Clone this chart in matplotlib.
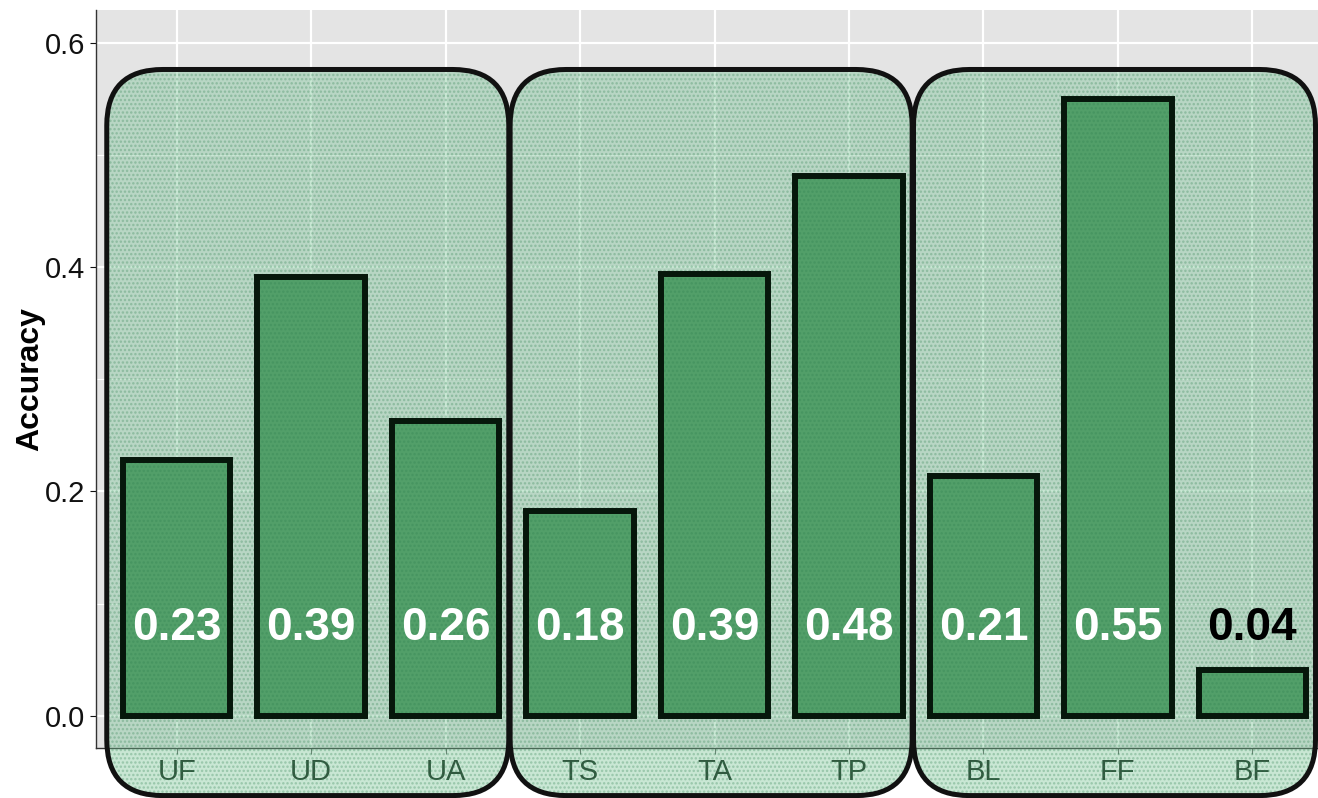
import numpy as np
import matplotlib
matplotlib.use('Agg')
import matplotlib.pyplot as plt
from matplotlib.patches import FancyBboxPatch

plt.rcParams['font.family'] = ['Liberation Sans', 'DejaVu Sans']
plt.rcParams['hatch.linewidth'] = 1.2

# data
categories = ['UF', 'UD', 'UA', 'TS', 'TA', 'TP', 'BL', 'FF', 'BF']
accuracy = [0.228, 0.391, 0.263, 0.183, 0.394, 0.481, 0.214, 0.55, 0.041]
groups = [['UF', 'UD', 'UA'], ['TS', 'TA', 'TP'], ['BL', 'FF', 'BF']]
y_ticks = [0.0, 0.2, 0.4, 0.6]

W, H = 1318, 798
fig = plt.figure(figsize=(W / 100, H / 100), dpi=100)
ax = fig.add_axes([96 / W, 50 / H, (1333 - 96) / W, (748 - 10) / H])

ylim = (-0.0286, 0.629)
xlim = (-0.6, len(categories) - 0.4)
ax.set_xlim(*xlim)
ax.set_ylim(*ylim)

# ggplot-like panel
ax.set_facecolor('#e4e4e4')
ax.set_axisbelow(True)
ax.set_yticks(y_ticks)
ax.set_yticks([0.1, 0.3, 0.5], minor=True)
ax.grid(which='major', color='white', linewidth=1.6)
ax.grid(which='minor', axis='y', color='white', linewidth=0.8)
for side in ['top', 'right']:
    ax.spines[side].set_visible(False)
for side in ['left', 'bottom']:
    ax.spines[side].set_color('#333333')
    ax.spines[side].set_linewidth(1.0)

x = np.arange(len(categories))
# bar fill sits under the group boxes, outline goes on top so it stays dark
ax.bar(x, accuracy, width=0.8, color='#3f8c52', linewidth=0, zorder=3)
ax.bar(x, accuracy, width=0.8, facecolor='none', edgecolor='#06170b',
       linewidth=4.3, zorder=5.8)

ax.set_xticks(x)
ax.set_xticklabels(categories)
ax.set_yticklabels([f'{t:.1f}' for t in y_ticks])
ax.tick_params(axis='both', labelsize=21, colors='#111111', length=4)
ax.tick_params(axis='x', colors='#666666', labelcolor='#0a1a0e')
ax.tick_params(axis='y', which='minor', length=0)
ax.set_ylabel('Accuracy', fontsize=23, fontweight='bold')
ax.yaxis.set_label_coords(-0.041, 0.5)

# rounded group boxes, drawn over everything in the panel
px_x = (xlim[1] - xlim[0]) / (1333 - 96)
px_y = (ylim[1] - ylim[0]) / (748 - 10)
aspect = px_y / px_x
radius = 56 * px_x
box_top, box_bottom = 0.576, -0.071
for grp in groups:
    i0 = categories.index(grp[0])
    i1 = categories.index(grp[-1])
    x0, x1 = i0 - 0.52, i1 + 0.47
    kw = dict(boxstyle=f'round,pad=0,rounding_size={radius}',
              mutation_aspect=aspect, clip_on=False, transform=ax.transData)
    ax.add_patch(FancyBboxPatch((x0, box_bottom), x1 - x0, box_top - box_bottom,
                                facecolor='#72c090', alpha=0.38, edgecolor='none',
                                zorder=5, **kw))
    ax.add_patch(FancyBboxPatch((x0, box_bottom), x1 - x0, box_top - box_bottom,
                                facecolor='none', edgecolor='#2f8050', hatch='....',
                                linewidth=0, alpha=0.3, zorder=5.5, **kw))
    ax.add_patch(FancyBboxPatch((x0, box_bottom), x1 - x0, box_top - box_bottom,
                                facecolor='none', edgecolor='#111111', linewidth=3.6,
                                zorder=6, **kw))

# value labels
for xi, v in zip(x, accuracy):
    col = 'white' if v > 0.1 else 'black'
    ax.text(xi, 0.078, f'{v:.2f}', ha='center', va='center', fontsize=33,
            fontweight='bold', color=col, zorder=10)

fig.savefig('out.png', dpi=100)
